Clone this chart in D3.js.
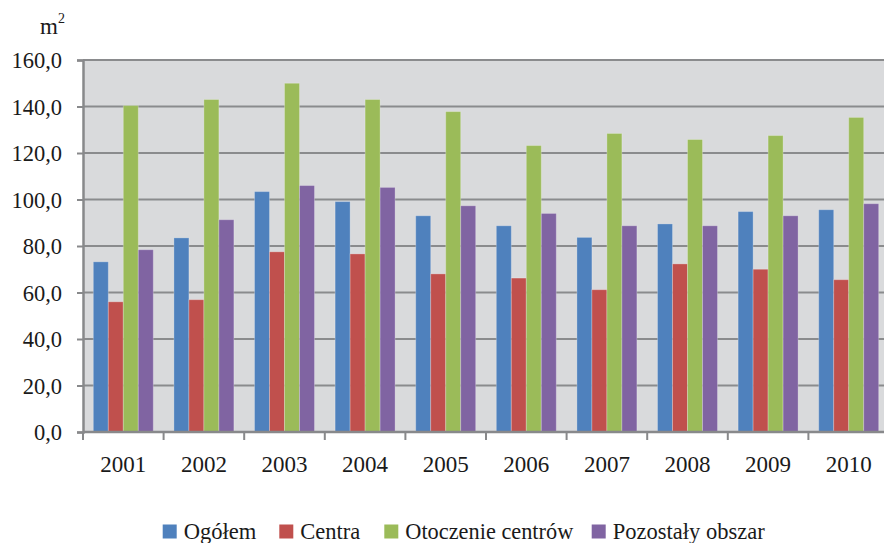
<!DOCTYPE html>
<html>
<head>
<meta charset="utf-8">
<script src="https://cdn.jsdelivr.net/npm/d3@7/dist/d3.min.js"></script>
<style>
  html, body { margin: 0; padding: 0; background: #ffffff; }
  svg { display: block; }
  svg text { font-family: "Liberation Serif", "DejaVu Serif", serif !important; fill: #1a1a1a; }
</style>
</head>
<body>
<svg id="chart" width="884" height="543"></svg>
<script>
// Years on the category axis
const years = ["2001", "2002", "2003", "2004", "2005", "2006", "2007", "2008", "2009", "2010"];

// Series names and values (m²)
const seriesNames = ["Ogółem", "Centra", "Otoczenie centrów", "Pozostały obszar"];
const ogolem    = [73.2, 83.5, 103.4, 99.1, 93.0, 88.7, 83.7, 89.5, 94.8, 95.6];
const centra    = [56.0, 56.9, 77.5, 76.6, 68.0, 66.2, 61.2, 72.3, 70.0, 65.5];
const otoczenie = [140.4, 143.0, 150.0, 143.0, 137.8, 123.2, 128.4, 125.8, 127.5, 135.3];
const pozostaly = [78.4, 91.3, 106.0, 105.2, 97.3, 94.0, 88.7, 88.7, 93.0, 98.2];

// Value axis ticks
const yTicks = [0, 20, 40, 60, 80, 100, 120, 140, 160];

const seriesValues = [ogolem, centra, otoczenie, pozostaly];
const colors = ["#4f81bd", "#c0504d", "#9bbb59", "#8064a2"];
const serif = "'Liberation Serif', 'DejaVu Serif', serif";

const svg = d3.select("#chart");

const plot = { left: 83, right: 889, top: 60, bottom: 432 };

const x = d3.scaleBand().domain(years).range([plot.left, plot.right]).padding(0);
const bw = x.bandwidth();
const xs = d3.scaleBand().domain(d3.range(4)).range([bw * 0.128, bw * 0.872]).padding(0);
const y = d3.scaleLinear().domain([0, 160]).range([plot.bottom, plot.top]);

// Plot background
svg.append("rect")
  .attr("x", plot.left).attr("y", plot.top)
  .attr("width", plot.right - plot.left).attr("height", plot.bottom - plot.top)
  .attr("fill", "#d9dadc");

// Horizontal gridlines
svg.append("g")
  .selectAll("line")
  .data(yTicks.filter(d => d > 0))
  .join("line")
  .attr("x1", plot.left).attr("x2", plot.right)
  .attr("y1", d => y(d)).attr("y2", d => y(d))
  .attr("stroke", "#8a8b8d").attr("stroke-width", 2);

// Bars
const groups = svg.append("g")
  .selectAll("g")
  .data(seriesValues)
  .join("g")
  .attr("fill", (d, i) => colors[i]);

groups.each(function(vals, si) {
  d3.select(this).selectAll("rect")
    .data(vals)
    .join("rect")
    .attr("x", (v, i) => x(years[i]) + xs(si))
    .attr("width", xs.bandwidth())
    .attr("y", v => y(v))
    .attr("height", v => y(0) - y(v))
    .attr("stroke", "rgba(255,255,255,0.25)")
    .attr("stroke-width", 1);
});

// Y axis
const yAxis = d3.axisLeft(y)
  .tickValues(yTicks)
  .tickSize(6)
  .tickPadding(15)
  .tickFormat(d => d3.format(".1f")(d).replace(".", ","));

const yg = svg.append("g")
  .attr("transform", `translate(${plot.left},0)`)
  .call(yAxis)
  .attr("font-family", serif);
yg.select(".domain").attr("stroke", "#88898b").attr("stroke-width", 2.5);
yg.selectAll(".tick line").attr("stroke", "#88898b").attr("stroke-width", 2);
yg.selectAll(".tick text")
  .attr("font-size", 22.5)
  .attr("fill", "#1a1a1a")
  .attr("dy", "0.34em");

// X axis with ticks at category boundaries
svg.append("line")
  .attr("x1", plot.left).attr("x2", plot.right)
  .attr("y1", plot.bottom).attr("y2", plot.bottom)
  .attr("stroke", "#88898b").attr("stroke-width", 2.5);

svg.append("g")
  .selectAll("line")
  .data(years.concat(["end"]))
  .join("line")
  .attr("x1", (d, i) => plot.left + i * bw)
  .attr("x2", (d, i) => plot.left + i * bw)
  .attr("y1", plot.bottom).attr("y2", plot.bottom + 8)
  .attr("stroke", "#88898b").attr("stroke-width", 2);

svg.append("g")
  .attr("font-family", serif)
  .selectAll("text")
  .data(years)
  .join("text")
  .attr("x", d => x(d) + bw / 2)
  .attr("y", 472)
  .attr("text-anchor", "middle")
  .attr("font-size", 23)
  .text(d => d);

// Unit label
const unit = svg.append("text")
  .attr("x", 40).attr("y", 33.5)
  .attr("font-family", serif)
  .attr("font-size", 23);
unit.append("tspan").text("m");
unit.append("tspan").attr("font-size", 14).attr("dy", -10.5).text("2");

// Legend
const legendX = [162.7, 279.3, 384.3, 591.7];
const legendW = [72.7, 60, 168, 152];
const legend = svg.append("g").attr("font-family", serif);
seriesNames.forEach((name, i) => {
  legend.append("rect")
    .attr("x", legendX[i]).attr("y", 524.5)
    .attr("width", 14).attr("height", 14)
    .attr("fill", colors[i]);
  legend.append("text")
    .attr("x", legendX[i] + 21).attr("y", 538.5)
    .attr("font-size", 22.5)
    .attr("textLength", legendW[i])
    .attr("lengthAdjust", "spacingAndGlyphs")
    .text(name);
});
</script>
</body>
</html>
